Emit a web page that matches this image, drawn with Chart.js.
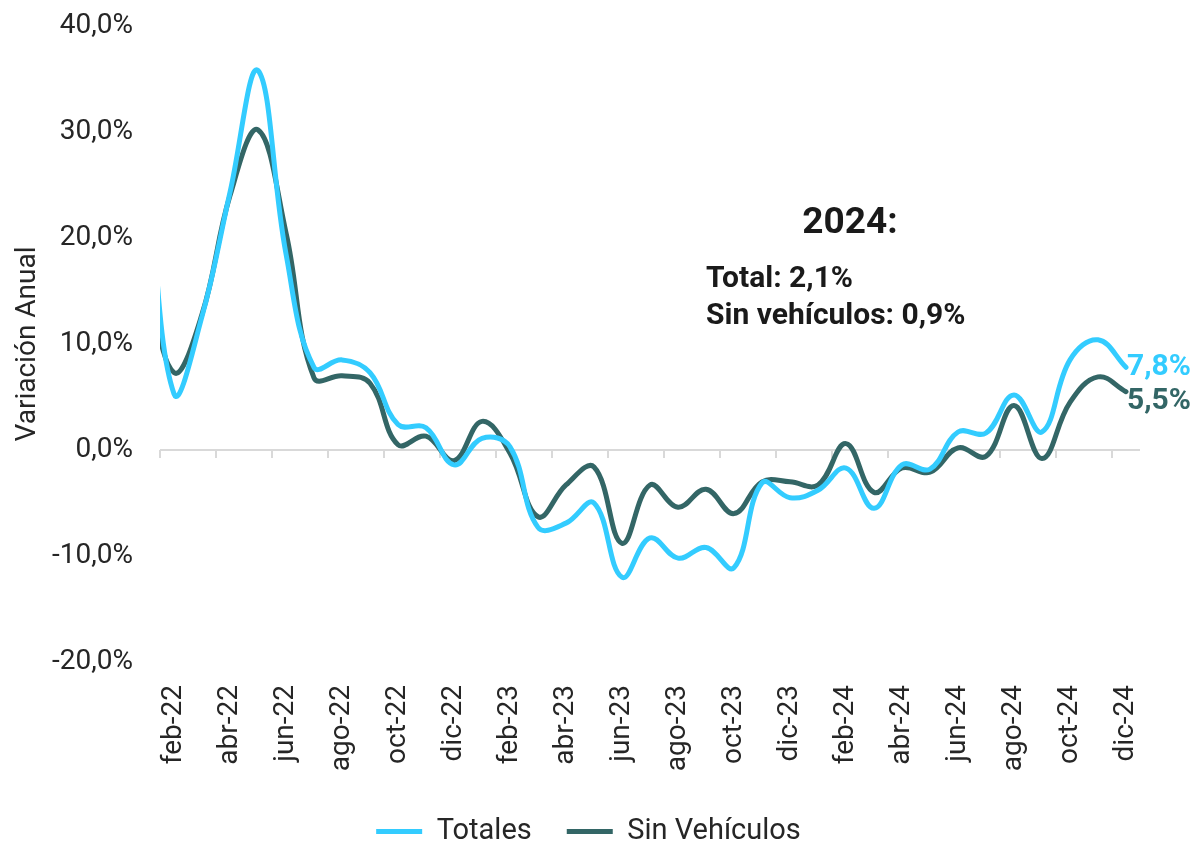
<!DOCTYPE html>
<html lang="es">
<head>
<meta charset="utf-8">
<title>Variación Anual</title>
<script src="https://cdn.jsdelivr.net/npm/chart.js@4"></script>
<style>
  body { margin: 0; background: #fff; }
  #wrap { width: 1193px; height: 845px; position: relative; }
</style>
</head>
<body>
<div id="wrap"><canvas id="variacionChart"></canvas></div>
<script>
// Months (ene-22 sits just left of the plot, only its line segment shows)
const months = [
  'ene-22', 'feb-22', 'mar-22', 'abr-22', 'may-22', 'jun-22', 'jul-22', 'ago-22', 'sep-22', 'oct-22', 'nov-22', 'dic-22',
  'ene-23', 'feb-23', 'mar-23', 'abr-23', 'may-23', 'jun-23', 'jul-23', 'ago-23', 'sep-23', 'oct-23', 'nov-23', 'dic-23',
  'ene-24', 'feb-24', 'mar-24', 'abr-24', 'may-24', 'jun-24', 'jul-24', 'ago-24', 'sep-24', 'oct-24', 'nov-24', 'dic-24'
];

// Annual variation, %
const totales = [
  28.0, 5.3, 12.6, 24.3, 35.8, 18.5, 7.8, 8.5, 7.3, 2.4, 2.1, -1.4,
  1.1, 0.3, -7.3, -6.9, -5.0, -12.0, -8.3, -10.2, -9.2, -11.1, -3.1, -4.5,
  -3.8, -1.7, -5.5, -1.4, -1.8, 1.7, 1.6, 5.2, 1.7, 8.5, 10.4, 7.8
];
const sinVehiculos = [
  17.0, 7.3, 12.8, 24.0, 30.2, 20.5, 6.8, 7.0, 6.3, 0.5, 1.3, -1.0,
  2.7, -0.3, -6.3, -3.3, -1.6, -8.8, -3.3, -5.4, -3.7, -6.0, -3.0, -3.0,
  -3.3, 0.6, -4.0, -1.7, -2.1, 0.2, -0.6, 4.2, -0.8, 4.5, 6.9, 5.5
];

const yTicks = [-20, -10, 0, 10, 20, 30, 40];
const resumen = ['2024:', 'Total: 2,1%', 'Sin vehículos: 0,9%'];

const fmt = v => v.toFixed(1).replace('.', ',') + '%';

// light zero line with small tick marks every two months
const zeroLine = {
  id: 'zeroLine',
  beforeDatasetsDraw(chart) {
    const { ctx, chartArea, scales: { x, y } } = chart;
    const y0 = y.getPixelForValue(0);
    const half = (x.getPixelForValue(2) - x.getPixelForValue(1)) / 2;
    ctx.save();
    ctx.strokeStyle = '#d9d9d9';
    ctx.lineWidth = 2;
    ctx.beginPath();
    ctx.moveTo(chartArea.left, y0);
    ctx.lineTo(chartArea.right, y0);
    for (let i = 1; i < months.length; i += 2) {
      const px = Math.round(x.getPixelForValue(i) - half);
      ctx.moveTo(px, y0);
      ctx.lineTo(px, y0 + 8);
    }
    ctx.stroke();
    ctx.restore();
  }
};

// last value printed next to each line
const endLabels = {
  id: 'endLabels',
  afterDatasetsDraw(chart) {
    const ctx = chart.ctx;
    const shift = [0, 10];
    ctx.save();
    ctx.font = 'bold 30px Roboto';
    ctx.textBaseline = 'middle';
    ctx.textAlign = 'left';
    chart.data.datasets.forEach((ds, i) => {
      const meta = chart.getDatasetMeta(i);
      const pt = meta.data[meta.data.length - 1];
      ctx.fillStyle = ds.borderColor;
      ctx.fillText(fmt(ds.data[ds.data.length - 1]), pt.x + 1, pt.y + shift[i]);
    });
    ctx.restore();
  }
};

// "2024:" summary block
const resumenText = {
  id: 'resumenText',
  afterDraw(chart) {
    const { ctx, scales: { x, y } } = chart;
    ctx.save();
    ctx.fillStyle = '#1a1a1a';
    ctx.textBaseline = 'middle';
    ctx.font = 'bold 37px Roboto';
    ctx.textAlign = 'center';
    ctx.fillText(resumen[0], x.getPixelForValue(months.indexOf('feb-24')) + 4, y.getPixelForValue(21.3));
    ctx.font = 'bold 30px Roboto';
    ctx.textAlign = 'left';
    const left = x.getPixelForValue(months.indexOf('sep-23'));
    ctx.fillText(resumen[1], left, y.getPixelForValue(16.1));
    ctx.fillText(resumen[2], left, y.getPixelForValue(12.6));
    ctx.restore();
  }
};

window.onload = function () {
  const ctx = document.getElementById('variacionChart').getContext('2d');
  const tickFont = { family: 'Roboto', size: 28 };

  new Chart(ctx, {
    type: 'line',
    data: {
      labels: months,
      datasets: [
        {
          label: 'Totales',
          data: totales,
          borderColor: '#33ccff',
          backgroundColor: '#33ccff',
          borderWidth: 5,
          borderCapStyle: 'round',
          pointRadius: 0,
          tension: 0.4,
          clip: 0
        },
        {
          label: 'Sin Vehículos',
          data: sinVehiculos,
          borderColor: '#336666',
          backgroundColor: '#336666',
          borderWidth: 5,
          borderCapStyle: 'round',
          pointRadius: 0,
          tension: 0.4,
          clip: 0
        }
      ]
    },
    options: {
      responsive: true,
      maintainAspectRatio: false,
      animation: false,
      devicePixelRatio: 1,
      layout: { padding: { top: 26, left: 0, right: 16, bottom: -11 } },
      plugins: {
        legend: {
          position: 'bottom',
          labels: {
            usePointStyle: true,
            pointStyle: 'line',
            pointStyleWidth: 46,
            padding: 35,
            color: '#262626',
            font: { family: 'Roboto', size: 29 }
          }
        },
        tooltip: { enabled: false }
      },
      scales: {
        x: {
          type: 'category',
          min: 'feb-22',
          max: 'dic-24',
          offset: true,
          grid: { display: false, drawTicks: false },
          border: { display: false },
          ticks: {
            autoSkip: false,
            minRotation: 90,
            maxRotation: 90,
            padding: 23,
            color: '#262626',
            font: tickFont,
            callback(value, index) {
              return index % 2 === 0 ? this.getLabelForValue(value) : '';
            }
          },
          afterFit(scale) { scale.height = 120; }
        },
        y: {
          min: yTicks[0],
          max: yTicks[yTicks.length - 1],
          grid: { display: false, drawTicks: false },
          border: { display: false },
          ticks: {
            stepSize: 10,
            padding: 27,
            color: '#262626',
            font: tickFont,
            callback: v => fmt(v)
          },
          title: {
            display: true,
            text: 'Variación Anual',
            color: '#262626',
            font: tickFont,
            padding: { top: 11, bottom: 0 }
          },
          afterFit(scale) {
            scale.width = 160;
            scale.paddingTop = 0;
            scale.paddingBottom = 0;
          }
        },
        // empty right-hand space for the end labels
        yPad: {
          position: 'right',
          grid: { display: false, drawTicks: false },
          border: { display: false },
          ticks: { display: false },
          afterFit(scale) { scale.width = 37; }
        }
      }
    },
    plugins: [zeroLine, endLabels, resumenText]
  });
};
</script>
</body>
</html>
